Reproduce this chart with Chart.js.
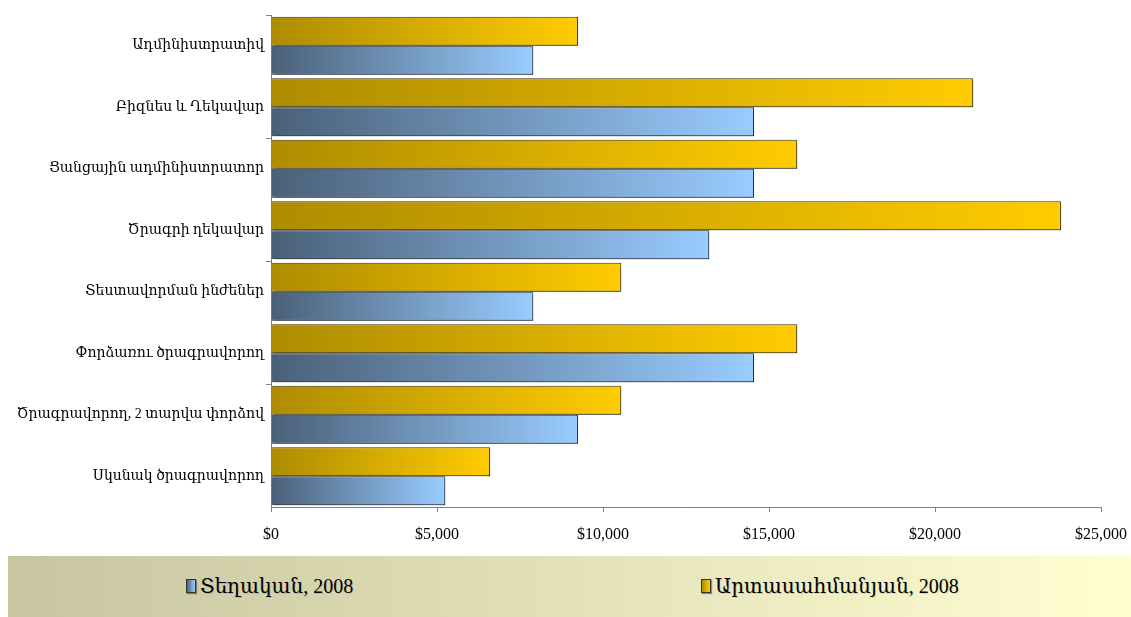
<!DOCTYPE html>
<html lang="hy">
<head>
  <meta charset="UTF-8">
  <title>Աշխատավարձեր, 2008</title>
  <script src="https://cdn.jsdelivr.net/npm/chart.js"></script>
  <style>
    * { box-sizing: border-box; margin: 0; padding: 0; }
    body {
      width: 1131px;
      height: 617px;
      background: #fff;
      font-family: 'Liberation Serif', 'DejaVu Serif', serif;
      overflow: hidden;
    }
    .chart-box {
      position: relative;
      width: 1131px;
      height: 556px;
    }
    .legend {
      position: absolute;
      left: 8px;
      top: 556px;
      width: 1123px;
      height: 61px;
      background: linear-gradient(to right, #c6c5a0, #e3e1b8 50%, #ffffd2);
    }
    .legend-item {
      position: absolute;
      top: 18px;
      font-size: 20px;
      color: #000;
      display: flex;
      align-items: center;
      text-shadow: 1px 1px 0 rgba(0,0,0,0.12);
    }
    .legend-item .swatch {
      display: inline-block;
      width: 10px;
      height: 14px;
      margin-right: 4px;
      border: 1px solid #333;
      box-shadow: 1px 1px 1px rgba(0,0,0,0.4);
    }
  </style>
</head>
<body>
  <div class="chart-box">
    <canvas id="salaryChart"></canvas>
  </div>
  <div class="legend">
    <div class="legend-item" style="left: 178px;"><span class="swatch" style="background: linear-gradient(to right, #4a6078, #99ccff);"></span>Տեղական, 2008</div>
    <div class="legend-item" style="left: 693px;"><span class="swatch" style="background: linear-gradient(to right, #ad8c00, #ffcc00);"></span>Արտասահմանյան, 2008</div>
  </div>

  <script>
    // Job titles, top to bottom
    const categories = [
      'Ադմինիստրատիվ',
      'Բիզնես և Ղեկավար',
      'Ցանցային ադմինիստրատոր',
      'Ծրագրի ղեկավար',
      'Տեստավորման ինժեներ',
      'Փորձառու ծրագրավորող',
      'Ծրագրավորող, 2 տարվա փորձով',
      'Սկսնակ ծրագրավորող'
    ];
    // Average salary, USD
    const foreign2008 = [9250, 21150, 15850, 23800, 10550, 15850, 10550, 6600];
    const local2008 = [7900, 14550, 14550, 13200, 7900, 14550, 9250, 5250];
    const xTicks = [0, 5000, 10000, 15000, 20000, 25000];

    const fontFamily = "'Liberation Serif', 'DejaVu Serif', serif";

    // each bar gets its own left-to-right gradient
    function barGradient(from, to) {
      return (ctx) => {
        const chart = ctx.chart;
        const xs = chart.scales && chart.scales.x;
        if (!chart.chartArea || !xs || ctx.raw === undefined) return to;
        const x0 = xs.getPixelForValue(0);
        const x1 = xs.getPixelForValue(ctx.raw);
        const g = chart.ctx.createLinearGradient(x0, 0, x1, 0);
        g.addColorStop(0, from);
        g.addColorStop(1, to);
        return g;
      };
    }

    // soft drop shadow under the bars
    const barShadow = {
      id: 'barShadow',
      beforeDatasetsDraw(chart) {
        const c = chart.ctx;
        c.save();
        c.shadowColor = 'rgba(0, 0, 0, 0.35)';
        c.shadowOffsetX = 2;
        c.shadowOffsetY = 2;
        c.shadowBlur = 2;
      },
      afterDatasetsDraw(chart) {
        chart.ctx.restore();
      }
    };

    new Chart(document.getElementById('salaryChart'), {
      type: 'bar',
      data: {
        labels: categories,
        datasets: [
          {
            label: 'Արտասահմանյան, 2008',
            data: foreign2008,
            backgroundColor: barGradient('#ad8c00', '#ffcc00'),
            borderColor: '#3a3000',
            borderWidth: 1
          },
          {
            label: 'Տեղական, 2008',
            data: local2008,
            backgroundColor: barGradient('#4a6078', '#99ccff'),
            borderColor: '#1e2a38',
            borderWidth: 1
          }
        ]
      },
      options: {
        indexAxis: 'y',
        responsive: true,
        maintainAspectRatio: false,
        animation: false,
        datasets: {
          bar: { categoryPercentage: 0.94, barPercentage: 1.0 }
        },
        layout: { padding: { top: 15, right: 0, left: 0, bottom: 0 } },
        plugins: {
          legend: { display: false },
          tooltip: { enabled: false }
        },
        scales: {
          x: {
            min: 0,
            max: 25000,
            afterFit(scale) {
              scale.height = 49;
              scale.paddingRight = 30;
            },
            afterBuildTicks(scale) { scale.ticks = xTicks.map(v => ({ value: v })); },
            border: { display: true, color: '#808080', width: 1 },
            grid: {
              drawOnChartArea: false,
              drawTicks: true,
              tickLength: 5,
              color: '#808080'
            },
            ticks: {
              padding: 13,
              color: '#000',
              font: { family: fontFamily, size: 16 },
              callback: (v) => '$' + Number(v).toLocaleString('en-US')
            }
          },
          y: {
            afterFit(scale) { scale.width = 271; },
            border: { display: true, color: '#808080', width: 1 },
            grid: {
              offset: true,
              drawOnChartArea: false,
              drawTicks: true,
              tickLength: 5,
              color: (ctx) => (ctx.index % 2 === 0 ? '#808080' : 'rgba(0,0,0,0)')
            },
            ticks: {
              padding: 2,
              color: '#000',
              font: { family: fontFamily, size: 14 }
            }
          }
        }
      },
      plugins: [barShadow]
    });
  </script>
</body>
</html>
